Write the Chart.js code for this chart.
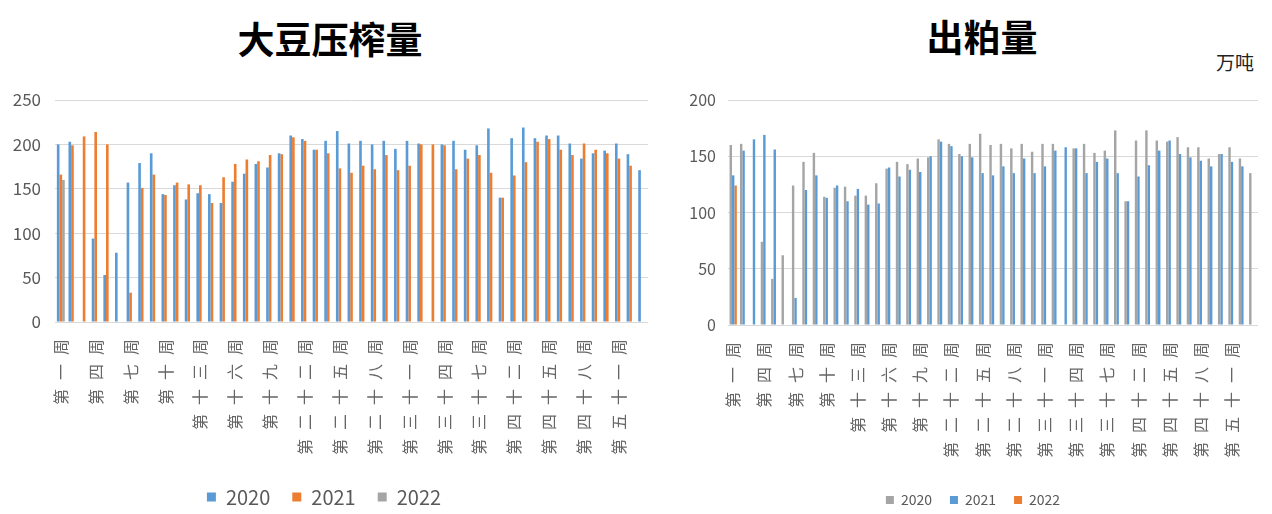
<!DOCTYPE html>
<html>
<head>
<meta charset="utf-8">
<script src="https://cdn.jsdelivr.net/npm/chart.js@4.4.0/dist/chart.umd.min.js"></script>
<style>
  body { margin: 0; background: #fff; overflow: hidden; width: 1272px; height: 514px; position: relative; }
  .title { position: absolute; font-family: "Noto Sans CJK SC", sans-serif; font-weight: bold; color: #000; text-align: center; white-space: nowrap; }
  canvas { position: absolute; top: 0; }
</style>
</head>
<body>
<div class="title" style="left:180px; top:12px; width:300px; font-size:37px; line-height:52px;">大豆压榨量</div>
<div class="title" style="left:832px; top:10px; width:300px; font-size:37px; line-height:52px;">出粕量</div>
<div class="title" style="left:1205px; top:48px; width:60px; font-size:19px; font-weight:normal; color:#222; line-height:28px;">万吨</div>
<canvas id="chart_1" width="676" height="517" style="left:0px"></canvas>
<canvas id="chart_2" width="592" height="517" style="left:680px"></canvas>
<script>
// categories (weeks 40 and 41 are missing in the source)
const weeks = ['第一周','第二周','第三周','第四周','第五周','第六周','第七周','第八周','第九周','第十周',
  '第十一周','第十二周','第十三周','第十四周','第十五周','第十六周','第十七周','第十八周','第十九周','第二十周',
  '第二十一周','第二十二周','第二十三周','第二十四周','第二十五周','第二十六周','第二十七周','第二十八周','第二十九周','第三十周',
  '第三十一周','第三十二周','第三十三周','第三十四周','第三十五周','第三十六周','第三十七周','第三十八周','第三十九周',
  '第四十二周','第四十三周','第四十四周','第四十五周','第四十六周','第四十七周','第四十八周','第四十九周','第五十周',
  '第五十一周','第五十二周','第五十三周'];

// 大豆压榨量
const crush2020 = [200, 203, null, 94, 53, 78, 157, 179, 190, 144, 154, 138, 145, 144, 134, 158, 167, 178, 174, 190,
  210, 206, 194, 204, 215, 201, 204, 200, 204, 195, 204, 201, null, 200, 204, 194, 199, 218, 140,
  207, 219, 207, 210, 210, 201, 184, 190, 193, 201, 189, 171];
const crush2021 = [166, 199, 209, 214, 200, null, 33, 151, 166, 143, 157, 155, 154, 134, 163, 178, 183, 181, 188, 189,
  208, 204, 194, 190, 173, 168, 176, 172, 188, 171, 176, 200, 200, 199, 172, 184, 188, 168, 140,
  165, 180, 203, 206, 194, 188, 201, 194, 190, 184, 176, null];
const crush2022 = [160];

// 出粕量
const meal2020 = [160, 161, null, 74, 41, 62, 124, 145, 153, 114, 122, 123, 115, 115, 126, 139, 145, 143, 148, 149,
  165, 161, 152, 161, 170, 160, 161, 157, 161, 154, 161, 161, null, 157, 161, 153, 155, 173, 110,
  164, 173, 164, 163, 167, 158, 158, 148, 152, 158, 148, 135];
const meal2021 = [133, 155, 165, 169, 156, null, 24, 120, 133, 113, 124, 110, 121, 107, 108, 140, 132, 138, 136, 150,
  163, 159, 150, 149, 135, 133, 141, 135, 148, 135, 141, 155, 158, 157, 135, 145, 148, 135, 110,
  132, 142, 155, 164, 152, 149, 146, 141, 152, 145, 141, null];
const meal2022 = [124];

const blue = '#5B9BD5';
const orange = '#ED7D31';
const gray = '#A5A5A5';
const tickColor = '#595959';

Chart.defaults.font.family = '"Noto Sans CJK SC", "Noto Sans", sans-serif';
Chart.defaults.animation = false;

// stretch the vertical week labels a bit, like the source picture
const spacedTicks = {
    id: 'spacedTicks',
    afterLayout(chart) {
        const s = chart.scales.x;
        if (s._spaced) return;
        const orig = s.drawLabels;
        s.drawLabels = function (area) {
            this.ctx.save();
            this.ctx.letterSpacing = '9px';
            orig.call(this, area);
            this.ctx.restore();
        };
        s._spaced = true;
    }
};

const makeOpts = (o) => ({
    responsive: false,
    layout: { padding: { top: 100, left: 0, right: o.right, bottom: 0 } },
    plugins: {
        title: { display: false },
        tooltip: { enabled: false },
        legend: {
            position: 'bottom',
            labels: {
                color: tickColor,
                boxWidth: o.box, boxHeight: o.box,
                padding: o.legendPad,
                font: { size: o.legendSize }
            }
        }
    },
    scales: {
        x: {
            grid: { display: false },
            border: { display: false },
            ticks: {
                color: '#666666',
                font: { size: 16 },
                autoSkip: false,
                minRotation: 90,
                maxRotation: 90,
                padding: 0,
                callback: function (val, i) { return i % 3 === 0 ? this.getLabelForValue(val) : ''; }
            },
            afterFit: (scale) => { scale.height = o.xHeight; }
        },
        y: {
            min: 0,
            max: o.max,
            border: { display: false },
            grid: { color: '#d9d9d9', drawTicks: false },
            ticks: { stepSize: 50, color: tickColor, font: { size: o.ySize }, padding: o.yPad },
            afterFit: (scale) => { scale.width = o.yWidth; }
        }
    }
});

// 大豆压榨量
const chartCrush = {
    type: 'bar',
    data: {
        labels: weeks,
        datasets: [
            { label: '2020', data: crush2020, backgroundColor: blue, categoryPercentage: 0.68, barPercentage: 1 },
            { label: '2021', data: crush2021, backgroundColor: orange, categoryPercentage: 0.68, barPercentage: 1 },
            { label: '2022', data: crush2022, backgroundColor: gray, categoryPercentage: 0.68, barPercentage: 1 }
        ]
    },
    options: makeOpts({ right: 28, max: 250, xHeight: 143, yWidth: 55, yPad: 14, ySize: 17,
        box: 9, legendPad: 22, legendSize: 20 }),
    plugins: [spacedTicks]
};
const chart_1 = new Chart(document.getElementById('chart_1'), chartCrush);

// 出粕量
const chartMeal = {
    type: 'bar',
    data: {
        labels: weeks,
        datasets: [
            { label: '2020', data: meal2020, backgroundColor: gray, categoryPercentage: 0.7, barPercentage: 1 },
            { label: '2021', data: meal2021, backgroundColor: blue, categoryPercentage: 0.7, barPercentage: 1 },
            { label: '2022', data: meal2022, backgroundColor: orange, categoryPercentage: 0.7, barPercentage: 1 }
        ]
    },
    options: makeOpts({ right: 6, max: 200, xHeight: 150, yWidth: 48, yPad: 12, ySize: 16,
        box: 8, legendPad: 18, legendSize: 14 }),
    plugins: [spacedTicks]
};
const chart_2 = new Chart(document.getElementById('chart_2'), chartMeal);
</script>
</body>
</html>
